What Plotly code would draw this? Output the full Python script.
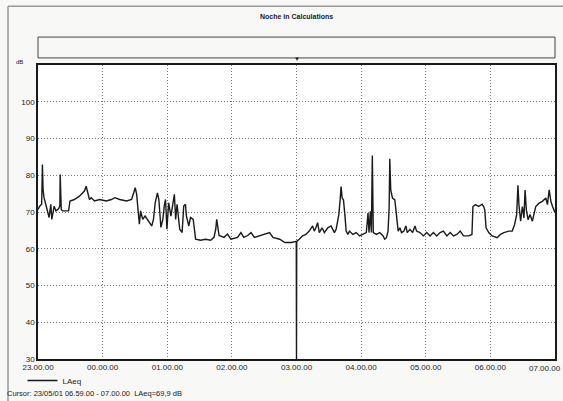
import pandas as pd
import plotly.graph_objects as go

title_text = "Noche in Calculations"
series_name = "LAeq"
cursor_text = "Cursor: 23/05/01 06.59.00 - 07.00.00  LAeq=69,9 dB"
y_ticks = [30, 40, 50, 60, 70, 80, 90, 100]

# minutes after 23:00 (22/05/01) and LAeq in dB
minutes = [
    0, 1.6, 3.4, 4.1, 4.7, 5.6, 7.2, 10.3, 11.9, 12.8, 15, 16.6, 19.1, 20.3, 20.6, 21.6,
    22.8, 28.4, 29.7, 33.8, 38.4, 43.1, 44.7, 46.3, 47.8, 49.4, 52.5, 57.2, 63.4, 68.1,
    71.3, 75.9, 82.2, 86.9, 89.1, 90.3, 91.6, 93.1, 94.1, 95.3, 97.2, 99.4, 102.5, 105.6,
    107.2, 108.8, 110.9, 112.2, 114.1, 115.9, 117.2, 118.4, 119.7, 121.3, 123.4, 125.3,
    126.6, 127.8, 129.1, 131.6, 133.8, 135.3, 136.9, 137.8, 140, 141.6, 144.1, 146.3,
    150.9, 155.6, 160.3, 163.4, 165, 165.9, 167.2, 168.1, 172.8, 175.9, 179.1, 185.3,
    188.4, 191, 194.7, 197.8, 200.9, 207.2, 215, 218.1, 224.4, 229.1, 235.3, 239.8,
    240, 240.2, 242.5, 245.6, 248.7, 251.8, 255, 256.5, 258, 259.6, 261.2, 263.7, 265.9,
    269, 272.1, 275.2, 276.8, 279.3, 280.5, 281.4, 282.4, 283.6, 284.9, 286.1, 287.7,
    289.2, 292.3, 295.5, 298.6, 301.7, 304.8, 306.4, 307.3, 308.6, 309.5, 310.4, 311.3,
    314.1, 317.3, 320.4, 321.9, 323.5, 325, 326, 326.6, 327.5, 329.1, 331.3, 332.8,
    334.4, 336, 337.5, 339.7, 341.6, 342.8, 345.3, 347.8, 350, 351.5, 354.6, 357.8,
    360.9, 364, 367.1, 370.2, 373.3, 376.4, 379.6, 382.7, 385.8, 388.9, 392, 395.1,
    399.8, 402.9, 403.8, 406, 409.2, 412.3, 413.8, 414.8, 416, 418.5, 421.6, 426.3,
    429.4, 432.5, 437.2, 440.3, 442.5, 444.4, 445.6, 446.5, 448.1, 449.7, 451.2, 452.2,
    453.4, 455, 456.8, 459, 460.6, 462.1, 465.2, 468.3, 471.5, 473, 474.6, 476.2, 477.7,
    480,
]
laeq = [
    70.7, 71.6, 72.1, 82.9, 76.1, 73.9, 72.1, 68.5, 72.1, 68.0, 71.6, 70.3, 70.9, 71.6, 80.2, 70.7,
    70.3, 70.3, 73.0, 73.4, 74.3, 75.7, 77.0, 74.8, 73.4, 73.9, 73.0, 73.4, 73.0, 73.4,
    73.9, 73.4, 73.0, 73.4, 75.2, 76.6, 74.8, 70.3, 66.7, 70.3, 68.0, 68.9, 67.6, 66.2,
    68.0, 72.5, 75.2, 73.4, 65.8, 68.0, 71.6, 73.4, 65.3, 72.5, 68.9, 72.1,
    74.8, 68.0, 72.1, 65.3, 64.4, 71.6, 72.1, 68.9, 66.2, 68.5, 68.0, 62.6,
    62.3, 62.6, 62.3, 63.1, 65.3, 68.0, 64.9, 63.6, 63.1, 64.0, 62.6, 63.1,
    64.4, 63.1, 63.6, 64.4, 63.1, 63.6, 64.4, 63.1, 62.6, 61.7, 61.7, 62.0,
    30.0, 62.0, 62.6, 63.5, 63.9, 64.8, 66.2, 64.8, 65.7, 67.1, 64.4, 65.7, 64.4,
    65.7, 66.2, 64.4, 65.3, 69.3, 73.3, 76.9, 73.8, 73.3, 69.3, 64.8, 63.9,
    64.8, 63.9, 64.4, 63.5, 63.9, 64.4, 69.7, 64.4, 70.2, 64.4, 85.4, 64.4,
    63.9, 64.4, 63.5, 62.6, 63.0, 64.8, 71.1, 84.5, 76.0, 73.8, 73.3, 68.4,
    64.8, 65.7, 64.4, 64.8, 66.2, 64.4, 65.3, 64.4, 66.2, 64.8, 64.4, 63.5,
    64.4, 63.5, 64.4, 63.5, 64.4, 64.8, 63.5, 64.4, 63.5, 63.9, 64.8, 63.5,
    63.5, 63.9, 71.5, 72.0, 71.5, 72.1, 71.5, 70.6, 65.7, 64.4, 63.5, 63.0,
    63.9, 64.4, 64.8, 64.8, 66.6, 69.3, 77.3, 72.0, 67.5, 71.5, 68.4, 76.0,
    70.6, 67.9, 69.3, 67.5, 69.3, 71.5, 72.4, 72.9, 73.8, 72.0, 76.0, 72.9, 71.5,
    69.9,
]

start = pd.Timestamp("2001-05-22 23:00:00")
end = pd.Timestamp("2001-05-23 07:00:00")
times = [start + pd.Timedelta(minutes=m) for m in minutes]
hour_ticks = pd.date_range(start, end, freq="1h")

FONT = "Liberation Sans, Arial, sans-serif"
INK = "#1a1a1a"

fig = go.Figure()
fig.add_trace(go.Scatter(
    x=times, y=laeq, mode="lines", name=series_name,
    line=dict(color=INK, width=1.4), showlegend=True,
))

fig.update_layout(
    width=563, height=401,
    margin=dict(l=38, r=8, t=65, b=42, autoexpand=False),
    paper_bgcolor="#f8f8f6", plot_bgcolor="#ffffff",
    font=dict(family=FONT, size=8, color=INK),
    showlegend=True,
    legend=dict(x=-0.03, y=-0.024, xanchor="left", yanchor="top",
                bgcolor="rgba(0,0,0,0)", font=dict(size=8, color=INK),
                itemwidth=30, tracegroupgap=0),
)
fig.update_xaxes(
    range=[start, end], tickvals=hour_ticks, tickformat="%H.%M.%S",
    showgrid=True, gridcolor="#777", griddash="1px,2px", gridwidth=1,
    showline=True, linecolor=INK, linewidth=1.5, mirror=True,
    ticks="", tickfont=dict(size=8, color=INK), automargin=False,
)
fig.update_yaxes(
    range=[30, 110], tickvals=y_ticks,
    showgrid=True, gridcolor="#777", griddash="1px,2px", gridwidth=1,
    showline=True, linecolor=INK, linewidth=1.5, mirror=True,
    ticks="", tickfont=dict(size=8, color=INK), zeroline=False, automargin=False,
)

# overview box above the plot
fig.add_shape(type="rect", xref="paper", yref="paper", x0=0, x1=1, y0=1.024, y1=1.095,
              line=dict(color="#444", width=1), fillcolor="rgba(0,0,0,0)")
# outer frame: left and top edges
fig.add_shape(type="line", xref="paper", yref="paper", x0=-0.058, x1=-0.058, y0=-0.5, y1=1.2,
              line=dict(color="#999", width=1.5), layer="below")
fig.add_shape(type="line", xref="paper", yref="paper", x0=-0.058, x1=1.3, y0=1.2, y1=1.2,
              line=dict(color="#999", width=1.5), layer="below")

fig.add_annotation(text="<b>" + title_text + "</b>", xref="paper", yref="paper",
                   x=0.5, y=1.165, yanchor="middle", showarrow=False, font=dict(size=7, color=INK))
fig.add_annotation(text="dB", xref="paper", yref="paper", x=-0.047, y=1.01,
                   xanchor="left", yanchor="middle", showarrow=False, font=dict(size=6, color=INK))
fig.add_annotation(text="▼", x=start + pd.Timedelta(minutes=240), xref="x", yref="paper",
                   y=1.003, yanchor="bottom", showarrow=False, font=dict(size=6, color=INK))
# last hour label (sits at the right edge of the picture)
fig.add_annotation(text=end.strftime("%H.%M.%S"), x=end, xref="x", yref="paper",
                   y=-0.0, yshift=-3, xanchor="right", yanchor="top", xshift=8,
                   showarrow=False, font=dict(size=8, color=INK))
fig.add_annotation(text=cursor_text, xref="paper", yref="paper", x=-0.064, y=-0.116,
                   xanchor="left", yanchor="middle", showarrow=False, font=dict(size=7.5, color=INK))

fig.write_html("out.html", config={"displayModeBar": False},
               post_script="document.body.style.margin='0px';document.body.style.overflow='hidden';")
